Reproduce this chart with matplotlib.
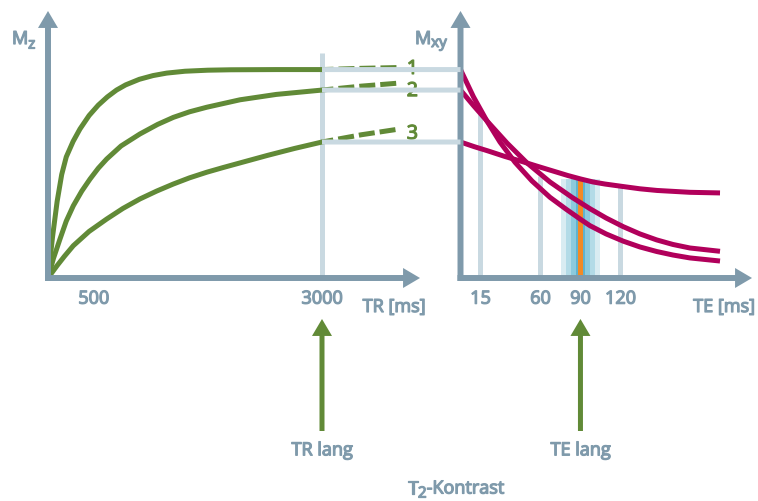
import matplotlib
matplotlib.use("Agg")
import matplotlib.pyplot as plt
import matplotlib.transforms as mtransforms
import matplotlib.patheffects as pe
from matplotlib.patches import FancyArrowPatch, ConnectionPatch

plt.rcParams['font.family'] = ['Open Sans', 'DejaVu Sans']

# ---------------- data ----------------
# longitudinal recovery Mz(TR), three tissues
tr_1 = [0, 50, 100, 150, 200, 275, 350, 450, 550, 650, 750, 850, 1000, 1150, 1300, 1500, 1750, 2000, 2500, 3000]
mz_1 = [0, 20, 37, 50, 58.5, 66, 72, 78.5, 83.5, 87.5, 90.8, 93.3, 96, 97.8, 99, 99.9, 100.4, 100.6, 100.7, 100.7]
tr_2 = [0, 60, 131, 200, 277, 370, 460, 550, 643, 800, 1007, 1200, 1372, 1550, 1738, 2102, 2500, 3000]
mz_2 = [0, 9.5, 18.8, 27.5, 34.9, 42, 47.8, 53, 57.5, 63.8, 69.6, 74.2, 77.6, 80.3, 82.5, 86.1, 88.7, 90.8]
tr_3 = [0, 100, 180, 277, 450, 643, 820, 1007, 1190, 1372, 1550, 1738, 1920, 2102, 2400, 2700, 3000]
mz_3 = [0, 6, 10.5, 15.6, 22.5, 28.5, 33.6, 38.2, 42, 45.4, 48.4, 51.1, 53.4, 55.6, 59.2, 62.6, 65.7]
# continuation beyond TR = 3000 ms
tr_dash = [3000, 3430, 3850]
mz_dash_1 = [100.7, 101.3, 101.7]
mz_dash_2 = [90.8, 92.7, 94.2]
mz_dash_3 = [65.7, 69.2, 72.0]
curve_names = ["1", "2", "3"]
name_pos_tr = 3990
name_pos_mz = [98.6, 87.9, 67.2]

tr_long = 3000
mz_at_tr = [100.7, 90.8, 65.7]
tr_ticks = [500, 3000]
tr_tick_labels = ["500", "3000"]

# transverse decay Mxy(TE), same tissues
te_1 = [0, 9.75, 19.7, 29.6, 40.9, 53.6, 67.1, 79.1, 90.4, 97.1, 109.2, 122.1, 134.6, 147.2, 159.4, 172.1, 194.7]
mxy_1 = [100.7, 87.5, 76.0, 65.7, 55.9, 46.9, 39.0, 33.3, 28.2, 25.3, 21.3, 17.8, 15.0, 12.8, 11.1, 9.7, 8.2]
te_2 = [0, 9.75, 19.7, 34.9, 49.9, 67.1, 83.6, 97.1, 109.2, 122.1, 134.6, 147.2, 159.4, 172.1, 194.7]
mxy_2 = [90.8, 83.3, 76.0, 65.2, 55.6, 46.4, 39.0, 33.5, 29.0, 24.8, 21.3, 18.4, 16.2, 14.5, 12.9]
te_3 = [0, 10.1, 20.6, 33.4, 46.1, 58.1, 70.9, 80.6, 90.4, 99.4, 108.4, 121.9, 134.6, 147.4, 172.1, 194.7]
mxy_3 = [65.7, 63.5, 61.4, 58.7, 56.3, 53.9, 51.4, 49.5, 47.8, 46.4, 45.4, 44.2, 43.1, 42.3, 41.4, 41.1]

te_ref = [15, 60, 120]
te_ref_top = [79, 49.5, 44.2]
te_long = 90
te_band_top = 47.8
te_band_half = [14.9, 10.9, 6.9, 3.4, 1.9]
te_ticks = [15, 60, 90, 120]
te_tick_labels = ["15", "60", "90", "120"]

# ---------------- style ----------------
W, H = 758, 502
AXIS = '#7f9aab'
TXT = '#7f9aab'
LIGHT = '#c9d9e1'
GREEN = '#618a37'
MAGENTA = '#b1005b'
BAND = ['#d9ecf2', '#b3dbe7', '#8ccadd', '#5fb3cf', '#f28a25']
LW = 3.6


def heavy(color):
    # a thin outline of the same colour gives the labels a semibold look
    return [pe.withStroke(linewidth=0.9, foreground=color)]


fig = plt.figure(figsize=(W / 100, H / 100), dpi=100)


def px_axes(x0, x1, ytop, ybot):
    return fig.add_axes([x0 / W, (H - ybot) / H, (x1 - x0) / W, (ybot - ytop) / H])


ax_l = px_axes(48, 420, 12, 279)
ax_r = px_axes(460.5, 752, 12, 279)
ax_l.set_xlim(0, 4073)
ax_r.set_xlim(0, 218.7)
for ax in (ax_l, ax_r):
    ax.set_ylim(0, 129)
    ax.patch.set_alpha(0)
    for s in ax.spines.values():
        s.set_visible(False)
    ax.set_yticks([])
    ax.tick_params(axis='x', length=0, pad=8.4, labelsize=13, labelcolor=TXT)

ax_l.set_xticks(tr_ticks, labels=tr_tick_labels)
ax_r.set_xticks(te_ticks, labels=te_tick_labels)
for ax in (ax_l, ax_r):
    for lbl in ax.get_xticklabels():
        lbl.set_path_effects(heavy(TXT))


def axis_arrows(ax, w_px, h_px):
    style = 'simple,head_length=12.2,head_width=14.4,tail_width=4.3'
    for a, b in [((-3 / w_px, 0), (1, 0)), ((0, -3 / h_px), (0, 1))]:
        p = FancyArrowPatch(a, b, transform=ax.transAxes, arrowstyle=style,
                            mutation_scale=1, facecolor=AXIS, edgecolor='none',
                            clip_on=False, zorder=6, shrinkA=0, shrinkB=0)
        ax.add_patch(p)


axis_arrows(ax_l, 372, 267)
axis_arrows(ax_r, 291.5, 267)

# ---- left: Mz recovery ----
ax_l.vlines(tr_long, 0, 108.7, color=LIGHT, lw=LW, zorder=1)
for v in mz_at_tr:
    con = ConnectionPatch(xyA=(tr_long, v), coordsA=ax_l.transData,
                          xyB=(0, v), coordsB=ax_r.transData,
                          color=LIGHT, lw=LW, zorder=1, capstyle='butt')
    fig.add_artist(con)

for tr, mz in [(tr_1, mz_1), (tr_2, mz_2), (tr_3, mz_3)]:
    ax_l.plot(tr, mz, color=GREEN, lw=LW, solid_capstyle='round',
              solid_joinstyle='round', zorder=3, clip_on=False)
for mz in (mz_dash_1, mz_dash_2, mz_dash_3):
    ax_l.plot(tr_dash, mz, color=GREEN, lw=LW, linestyle=(0.9, (3.2, 1.0)),
              dash_capstyle='butt', zorder=3, clip_on=False)
for name, y in zip(curve_names, name_pos_mz):
    ax_l.text(name_pos_tr, y, name, color=GREEN, fontsize=14,
              ha='center', va='baseline', zorder=4, path_effects=heavy(GREEN))

# ---- right: Mxy decay ----
ax_r.vlines(te_ref, 0, te_ref_top, color=LIGHT, lw=LW, zorder=1)
for hw, c in zip(te_band_half, BAND):
    ax_r.bar(te_long, te_band_top, width=2 * hw, color=c, linewidth=0, zorder=1.5)
for te, mxy in [(te_1, mxy_1), (te_2, mxy_2), (te_3, mxy_3)]:
    ax_r.plot(te, mxy, color=MAGENTA, lw=LW, solid_capstyle='butt',
              solid_joinstyle='round', zorder=3, clip_on=False)

# ---- "long TR / long TE" pointers ----
for ax, xv, label in [(ax_l, tr_long, "TR lang"), (ax_r, te_long, "TE lang")]:
    tf = mtransforms.blended_transform_factory(ax.transData, fig.transFigure)
    p = FancyArrowPatch((xv, 70 / H), (xv, 182 / H), transform=tf,
                        arrowstyle='simple,head_length=12.2,head_width=14.4,tail_width=3.6',
                        mutation_scale=1, facecolor=GREEN, edgecolor='none',
                        clip_on=False, zorder=5, shrinkA=0, shrinkB=0)
    ax.add_patch(p)
    ax.text(xv, 45.7 / H, label, transform=tf, color=TXT, fontsize=13,
            ha='center', va='baseline', path_effects=heavy(TXT))

# ---- free text ----
renderer = fig.canvas.get_renderer()


def rich_text(x_px, base_px, parts):
    x = x_px
    for s, size, dy in parts:
        t = fig.text(x / W, (H - (base_px + dy)) / H, s, fontsize=size, color=TXT,
                     ha='left', va='baseline', path_effects=heavy(TXT))
        x = t.get_window_extent(renderer).x1


rich_text(12, 45, [("M", 13, 0), ("z", 11, 4.5)])
rich_text(415, 45, [("M", 13, 0), ("xy", 11, 3)])
rich_text(408, 494.5, [("T", 13, 0), ("2", 11, 4), ("-Kontrast", 13, 0)])
fig.text(394 / W, (H - 313) / H, "TR [ms]", fontsize=13, color=TXT,
         ha='center', va='baseline', path_effects=heavy(TXT))
fig.text(724 / W, (H - 313) / H, "TE [ms]", fontsize=13, color=TXT,
         ha='center', va='baseline', path_effects=heavy(TXT))

fig.savefig("out.png", dpi=100, facecolor='white')
